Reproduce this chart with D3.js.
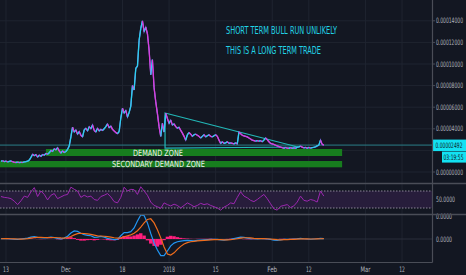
<!DOCTYPE html>
<html>
<head>
<meta charset="utf-8">
<script src="https://cdn.jsdelivr.net/npm/d3@7"></script>
<style>
  body { margin: 0; background: #131722; }
  svg { display: block; font-family: "Liberation Sans Narrow", "DejaVu Sans Condensed", "Liberation Sans", Arial, sans-serif; }
</style>
</head>
<body>
<svg width="466" height="275"></svg>
<script>
// price closes in satoshi, one every 12h from 11 Nov 2017 12:00 UTC
var priceSats = [
  1000, 1040, 960, 1000, 930, 980, 1020, 950, 900, 880,
  920, 870, 900, 880, 930, 960, 1010, 1100, 1350, 1650,
  1500, 1620, 1380, 1560, 1450, 1620, 1550, 1720, 1650, 1780,
  2000, 1900, 2150, 2050, 2250, 1950, 1750, 1950, 1800, 1900,
  2100, 2400, 3250, 4150, 3700, 3900, 3500, 3750, 3400, 3250,
  3900, 4050, 3800, 4200, 4000, 4350, 3850, 3700, 4050, 3800,
  3950, 3850, 4000, 4200, 4450, 4100, 4250, 3950, 3800, 3650,
  3550, 3750, 5000, 5900, 5450, 5700, 5100, 5500, 6100, 8000,
  7600, 9600, 9800, 12200, 13300, 14000, 13000, 13400, 12800, 11300,
  9000, 10400, 7800, 6500, 5400, 4200, 3300, 4500, 3700, 5450,
  4950, 4500, 4800, 4350, 4450, 4200, 4050, 4150, 3850, 3600,
  3300, 2950, 3450, 3650, 3500, 3300, 3450, 3500, 3400, 3300,
  3150, 3300, 3450, 3250, 3350, 3450, 3300, 3250, 3350, 3450,
  3300, 2950, 2650, 2800, 2650, 2700, 2800, 2650, 2700, 2650,
  2600, 2700, 2600, 3700, 3550, 3400, 3350, 3300, 3250, 3150,
  3050, 2950, 2900, 2850, 2900, 2850, 2900, 2800, 2950, 3150,
  3000, 2800, 2650, 2600, 2550, 2480, 2420, 2350, 2300, 2250,
  2200, 2270, 2200, 2180, 2250, 2190, 2230, 2190, 2290, 2330,
  2400, 2300, 2230, 2280, 2200, 2280, 2210, 2250, 2290, 2330,
  2420, 2480, 2950, 2560, 2492
];

// daily indicator values from 11 Nov 2017 12:00 UTC
var rsiValues = [
  57, 55, 54, 52, 46, 38, 47, 58, 55, 68,
  78, 57, 70, 62, 49, 60, 64, 52, 56, 60,
  62, 79, 74, 70, 55, 60, 56, 58, 50, 48,
  57, 60, 64, 56, 45, 42, 55, 79, 70, 74,
  73, 62, 80, 70, 60, 44, 36, 33, 29, 42,
  38, 35, 39, 36, 30, 36, 42, 38, 33, 36,
  41, 38, 40, 36, 33, 30, 25, 32, 36, 42,
  40, 55, 68, 58, 54, 48, 45, 50, 56, 62,
  52, 40, 28, 25, 34, 36, 38, 31, 35, 44,
  58, 48, 46, 50, 48, 44, 70, 58
];

var macdValues = [
  10, 20, 10, 0, -10, -20, 0, 20, 40, 80,
  100, 70, 60, 50, 60, 80, 60, 30, 10, 40,
  120, 260, 350, 330, 250, 190, 160, 140, 70, 80,
  110, 80, 30, 0, -30, -20, 140, 280, 280, 320,
  480, 780, 1050, 1020, 700, 240, -170, -480, -720, -720,
  -520, -300, -180, -120, -90, -70, -60, -70, -80, -60,
  -50, -40, -30, -20, -10, -20, -40, -50, -30, -10,
  20, 50, 80, 70, 40, 20, 10, 0, 10, 20,
  0, -20, -50, -60, -40, -20, -10, -20, 0, 10,
  30, 10, 0, -10, 0, 10, 30, 20
];

var signalValues = [
  10, 15, 15, 10, 5, 0, -5, 0, 15, 40,
  65, 75, 70, 65, 60, 65, 65, 55, 45, 40,
  60, 110, 180, 230, 250, 240, 220, 200, 170, 140,
  130, 120, 100, 80, 55, 35, 50, 100, 140, 180,
  250, 360, 520, 700, 850, 880, 700, 400, 50, -350,
  -650, -700, -600, -450, -320, -220, -160, -120, -100, -85,
  -70, -60, -50, -40, -30, -25, -30, -35, -35, -25,
  -10, 10, 40, 55, 55, 45, 30, 20, 15, 15,
  10, 0, -15, -30, -35, -30, -25, -20, -15, -5,
  5, 10, 5, 0, 0, 5, 10, 15
];

var histValues = [
  0, 5, -5, -10, -10, -10, 10, 20, 25, 20,
  10, -5, -10, -5, 5, 10, 0, -15, -20, 5,
  40, 80, 40, -40, -70, -70, -50, -40, -60, -40,
  -10, -20, -50, -60, -60, -40, 60, 130, 120, 110,
  150, 200, 250, 150, -60, -200, -300, -330, -250, -50,
  100, 140, 120, 80, 50, 30, 20, 10, 5, 10,
  10, 10, 10, 15, 5, -5, -10, -10, 5, 15,
  25, 25, 10, -10, -15, -15, -10, 0, 5, -5,
  -15, -25, -20, -5, 10, 10, 0, 10, 15, 15,
  0, -5, -10, 0, 5, 15, 5, 0
];

var priceTicks = [0, 2000, 4000, 6000, 8000, 10000, 12000, 14000];
var dateTicks = [
  Date.UTC(2017, 10, 13), Date.UTC(2017, 11, 1), Date.UTC(2017, 11, 18),
  Date.UTC(2018, 0, 1), Date.UTC(2018, 0, 15), Date.UTC(2018, 1, 1),
  Date.UTC(2018, 1, 12), Date.UTC(2018, 2, 1), Date.UTC(2018, 2, 12)
];
var dateLabels = ["13", "Dec", "18", "2018", "15", "Feb", "12", "Mar", "12"];

var lastPrice = 2492;
var lastTime = "03:19:55";

var demandZone = [1480, 2130];
var secondaryZone = [435, 1019];
var demandFrom = Date.UTC(2017, 10, 25);
var secondaryFrom = Date.UTC(2017, 10, 11, 4, 45);
var zonesTo = Date.UTC(2018, 1, 22);

var wedgeDates = [Date.UTC(2017, 11, 30, 19), Date.UTC(2018, 1, 8, 17), Date.UTC(2017, 11, 30, 19)];
var wedgeSats = [5460, 2315, 2220];

var notes = ["SHORT TERM BULL RUN UNLIKELY", "THIS IS A LONG TERM TRADE"];

var svg = d3.select("svg"),
    plotW = 432,
    halfDay = 12 * 3600 * 1000,
    day = 24 * 3600 * 1000,
    seriesStart = Date.UTC(2017, 10, 11, 12);

var x = d3.scaleUtc()
    .domain([new Date(Date.UTC(2017, 10, 11, 4, 45)), new Date(Date.UTC(2018, 2, 21, 0, 10))])
    .range([0, plotW]);
var yPrice = d3.scaleLinear().domain([0, 14000]).range([172, 20.8]);
var yRsi = d3.scaleLinear().domain([30, 70]).range([208, 191]);
var yMacd = d3.scaleLinear().domain([-1000, 1000]).range([262, 216]);

var gridColor = "#1f2430",
    axisColor = "#4a4d57",
    textColor = "#b2b5be";

// text squeezed horizontally to the narrow look of the original
function label(g, px, py, str, size, width, color, anchor) {
  var t = g.append("text")
      .attr("dy", "0.35em")
      .attr("font-size", size)
      .attr("fill", color)
      .attr("text-anchor", anchor || "start")
      .text(str);
  var natural = t.node().getComputedTextLength() || width;
  t.attr("transform", "translate(" + px + "," + py + ") scale(" + (width / natural) + ",1)");
  return t;
}

svg.append("rect").attr("width", 466).attr("height", 275).attr("fill", "#131722");

svg.append("defs").append("clipPath").attr("id", "mainClip")
  .append("rect").attr("width", plotW).attr("height", 183);

// grid
var grid = svg.append("g");
grid.selectAll(".vg").data(dateTicks).enter().append("line")
    .attr("x1", function(d) { return x(d); }).attr("x2", function(d) { return x(d); })
    .attr("y1", 0).attr("y2", 262)
    .attr("stroke", gridColor);
grid.selectAll(".hg").data(priceTicks).enter().append("line")
    .attr("x1", 0).attr("x2", plotW)
    .attr("y1", function(d) { return yPrice(d); }).attr("y2", function(d) { return yPrice(d); })
    .attr("stroke", gridColor);
grid.append("line").attr("x1", 0).attr("x2", plotW)
    .attr("y1", yMacd(0)).attr("y2", yMacd(0)).attr("stroke", "#2a2e3a");

// main pane
var main = svg.append("g").attr("clip-path", "url(#mainClip)");

main.append("rect")
    .attr("x", x(secondaryFrom)).attr("width", x(zonesTo) - x(secondaryFrom))
    .attr("y", yPrice(secondaryZone[1])).attr("height", yPrice(secondaryZone[0]) - yPrice(secondaryZone[1]))
    .attr("fill", "#177d1e");
main.append("rect")
    .attr("x", x(demandFrom)).attr("width", x(zonesTo) - x(demandFrom))
    .attr("y", yPrice(demandZone[1])).attr("height", yPrice(demandZone[0]) - yPrice(demandZone[1]))
    .attr("fill", "#177d1e");

label(main, 158, (yPrice(demandZone[0]) + yPrice(demandZone[1])) / 2 + 0.5, "DEMAND ZONE", 8.5, 50, "#f0f0f0", "middle");
label(main, 158.5, (yPrice(secondaryZone[0]) + yPrice(secondaryZone[1])) / 2 + 0.3, "SECONDARY DEMAND ZONE", 8.5, 93, "#f0f0f0", "middle");

// last price line
main.append("line").attr("x1", 0).attr("x2", plotW)
    .attr("y1", yPrice(lastPrice)).attr("y2", yPrice(lastPrice))
    .attr("stroke", "#2a7f88").attr("stroke-width", 1);

// wedge
main.append("path")
    .attr("d", d3.line()
      .x(function(d, i) { return x(wedgeDates[i]); })
      .y(function(d) { return yPrice(d); })(wedgeSats) + "Z")
    .attr("fill", "none").attr("stroke", "#22b7b7").attr("stroke-width", 1.2);

// price
var pts = priceSats.map(function(v, i) { return { t: new Date(seriesStart + i * halfDay), v: v }; });
main.append("path")
    .attr("d", d3.line().x(function(d) { return x(d.t); }).y(function(d) { return yPrice(d.v); })(pts))
    .attr("fill", "none").attr("stroke", "#7f6ef0").attr("stroke-width", 1.2);
main.selectAll(".seg").data(pts.slice(1)).enter().append("line")
    .attr("x1", function(d, i) { return x(pts[i].t); })
    .attr("y1", function(d, i) { return yPrice(pts[i].v); })
    .attr("x2", function(d) { return x(d.t); })
    .attr("y2", function(d) { return yPrice(d.v); })
    .attr("stroke", function(d, i) { return d.v >= pts[i].v ? "#2bd1ee" : "#d93fdc"; })
    .attr("stroke-width", 1.3);

label(main, 226, 30.5, notes[0], 10, 111, "#22d3e6");
label(main, 226, 50.5, notes[1], 10, 95, "#22d3e6");

// RSI pane
var rsi = svg.append("g");
rsi.append("rect").attr("x", 0).attr("width", plotW)
    .attr("y", yRsi(70)).attr("height", yRsi(30) - yRsi(70))
    .attr("fill", "#271d3b");
[70, 30].forEach(function(v) {
  rsi.append("line").attr("x1", 0).attr("x2", plotW)
      .attr("y1", yRsi(v)).attr("y2", yRsi(v))
      .attr("stroke", "#8a8596").attr("stroke-dasharray", "1.5,1.5");
});
var daily = function(i) { return x(new Date(seriesStart + i * day)); };
rsi.append("path")
    .attr("d", d3.line().x(function(d, i) { return daily(i); }).y(function(d) { return yRsi(d); })(rsiValues))
    .attr("fill", "none").attr("stroke", "#9c27b0").attr("stroke-width", 1);

// MACD pane
var macd = svg.append("g");
macd.selectAll(".hb").data(histValues).enter().append("rect")
    .attr("x", function(d, i) { return daily(i) - 1.7; })
    .attr("width", 3.4)
    .attr("y", function(d) { return Math.min(yMacd(d), yMacd(0)); })
    .attr("height", function(d) { return Math.abs(yMacd(d) - yMacd(0)); })
    .attr("fill", "#ff1e7d");
macd.append("path")
    .attr("d", d3.line().x(function(d, i) { return daily(i); }).y(function(d) { return yMacd(d); })(macdValues))
    .attr("fill", "none").attr("stroke", "#2196f3").attr("stroke-width", 1.2);
macd.append("path")
    .attr("d", d3.line().x(function(d, i) { return daily(i); }).y(function(d) { return yMacd(d); })(signalValues))
    .attr("fill", "none").attr("stroke", "#ef6c1c").attr("stroke-width", 1.2);

// right axis labels (the 0.00002000 one sits under the last price box)
var axis = svg.append("g");
priceTicks.forEach(function(v) {
  axis.append("line").attr("x1", plotW).attr("x2", plotW + 3)
      .attr("y1", yPrice(v)).attr("y2", yPrice(v)).attr("stroke", axisColor);
  if (Math.abs(yPrice(v) - yPrice(lastPrice)) > 12) {
    label(axis, 436, yPrice(v), d3.format(".8f")(v * 1e-8), 7.5, 27, textColor);
  }
});
label(axis, 436, yRsi(50), d3.format(".4f")(50), 7.5, 19, textColor);
[0, 1000].forEach(function(v) {
  label(axis, 436, yMacd(v), d3.format(".4f")(v * 1e-8), 7.5, 16, textColor);
});

// last price / countdown boxes
axis.append("rect").attr("x", 433).attr("y", yPrice(lastPrice) - 5.5).attr("width", 33).attr("height", 11.5).attr("fill", "#12e2f2");
label(axis, 435.5, yPrice(lastPrice) + 0.3, d3.format(".8f")(lastPrice * 1e-8), 7.5, 27, "#131722");
axis.append("rect").attr("x", 442).attr("y", yPrice(lastPrice) + 6.5).attr("width", 24).attr("height", 11).attr("fill", "#12e2f2");
label(axis, 443.5, yPrice(lastPrice) + 12, lastTime, 7.5, 20, "#131722");

// separators
svg.append("line").attr("x1", 0).attr("x2", 466).attr("y1", 183.5).attr("y2", 183.5).attr("stroke", axisColor).attr("stroke-width", 1.5);
svg.append("line").attr("x1", 0).attr("x2", 466).attr("y1", 214.5).attr("y2", 214.5).attr("stroke", axisColor).attr("stroke-width", 1.5);
svg.append("line").attr("x1", 0).attr("x2", plotW + 0.5).attr("y1", 262.5).attr("y2", 262.5).attr("stroke", axisColor).attr("stroke-width", 1.2);
svg.append("line").attr("x1", plotW + 0.5).attr("x2", plotW + 0.5).attr("y1", 0).attr("y2", 262.5).attr("stroke", axisColor).attr("stroke-width", 1.2);

// date labels
var bottom = svg.append("g");
dateTicks.forEach(function(t, i) {
  var s = dateLabels[i];
  label(bottom, x(t), 269.5, s, 7.5, s.length * 2.9 + (isNaN(+s) ? 1.2 : 0), textColor, "middle");
});
</script>
</body>
</html>
